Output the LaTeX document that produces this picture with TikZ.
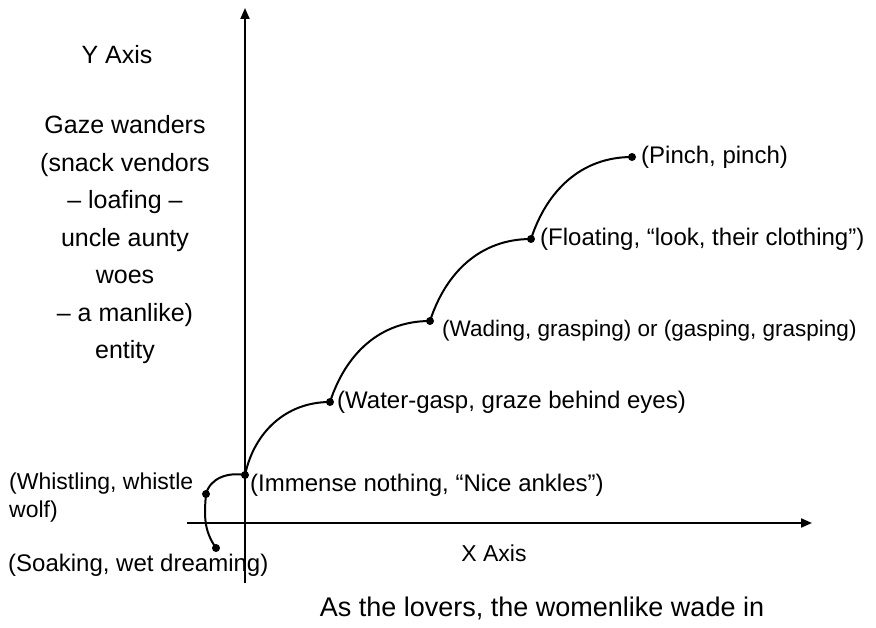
\documentclass[tikz,border=0pt]{standalone}
\usepackage{fontspec}
\setmainfont{Liberation Sans}
\usetikzlibrary{arrows.meta}
\begin{document}
\begin{tikzpicture}[x=1pt,y=1pt,
  lbl/.style={font=\fontsize{24}{28}\selectfont, inner sep=0pt},
  dot/.style={circle, fill=black, inner sep=0pt, minimum size=8pt},
  ln/.style={line width=2pt},
  axis/.style={line width=2pt, -{Triangle[length=11pt,width=9pt]}}]
\useasboundingbox (0,0) rectangle (876,-628);
\coordinate (xs) at (187,-523);
\coordinate (xe) at (812,-523);
\coordinate (ys) at (245,-583);
\coordinate (ye) at (245,-8);
\draw[axis] (xs) -- (xe);
\draw[axis] (ys) -- (ye);
\node[dot] (p0) at (216,-548) {};
\node[dot] (p1) at (206,-494) {};
\node[dot] (p2) at (245,-475) {};
\node[dot] (p3) at (330,-402) {};
\node[dot] (p4) at (430,-321) {};
\node[dot] (p5) at (531,-239) {};
\node[dot] (p6) at (632,-157) {};
\draw[ln] (p0.center) to[out=125,in=-95] (p1.center)
  to[out=75,in=170] (p2.center)
  to[out=78,in=180] (p3.center)
  to[out=72,in=180] (p4.center)
  to[out=72,in=180] (p5.center)
  to[out=72,in=180] (p6.center);
\node[lbl, anchor=west] (l6) at (641,-157) {(Pinch, pinch)};
\node[lbl, anchor=west] (l5) at (540,-239) {(Floating, “look, their clothing”)};
\node[lbl, anchor=west, font=\fontsize{22.5}{28}\selectfont] (l4) at (442,-331) {(Wading, grasping) or (gasping, grasping)};
\node[lbl, anchor=west] (l3) at (337,-402) {(Water-gasp, graze behind eyes)};
\node[lbl, anchor=west] (l2) at (250,-485) {(Immense nothing, “Nice ankles”)};
\node[lbl, anchor=west, align=left, font=\fontsize{23}{28}\selectfont] (l1) at (9,-498) {(Whistling, whistle\\wolf)};
\node[lbl, anchor=west] (l0) at (8,-565) {(Soaking, wet dreaming)};
\node[lbl, font=\fontsize{23}{28}\selectfont] (xl) at (494,-553) {X Axis};
\node[lbl, font=\fontsize{25}{30}\selectfont] (yl) at (117,-55) {Y Axis};
\node[lbl, font=\fontsize{27}{32}\selectfont] (cap) at (542,-608) {As the lovers, the womenlike wade in};
\node[lbl, align=center, font=\fontsize{25}{37.5}\selectfont] (yd) at (125,-240)
  {Gaze wanders\\(snack vendors\\– loafing –\\uncle aunty\\woes\\– a manlike)\\entity};
\end{tikzpicture}
\end{document}
